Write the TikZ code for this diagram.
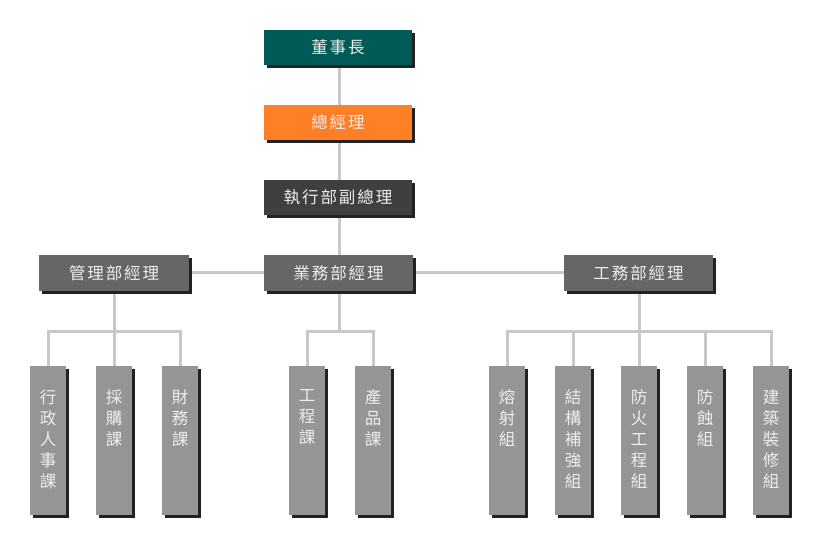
\documentclass[tikz,border=0pt]{standalone}
\usepackage{fontspec}
\newfontfamily\cjk[LetterSpace=12]{Noto Sans CJK TC}
\definecolor{teal1}{HTML}{005A55}
\definecolor{orange1}{HTML}{FF7F27}
\definecolor{dark1}{HTML}{3F3F3F}
\definecolor{mid1}{HTML}{666666}
\definecolor{low1}{HTML}{959595}
\definecolor{line1}{HTML}{C8C8C8}
\definecolor{shade1}{HTML}{222222}
\begin{document}
\begin{tikzpicture}[x=1pt,y=-1pt,
  conn/.style={line1,line width=3pt},
  lbl/.style={text=white!93!black,font=\cjk\fontsize{16.5}{21}\selectfont,inner sep=0pt,align=center},
]
\useasboundingbox[fill=white] (0,0) rectangle (819,546);
% box macro: fill colour, x1,y1,x2,y2
\newcommand\obox[6]{%
  \fill[shade1] (#2+3,#3+3) rectangle (#4+3,#5+3);
  \fill[#1] (#2,#3) rectangle (#4,#5);
  \coordinate (#6) at ({(#2+#4)/2},{(#3+#5)/2});
}
% connectors first
\coordinate (c1) at (339,65);
\coordinate (c2) at (339,255);
\draw[conn] (c1) -- (c2);
\draw[conn] (189,272) -- (564,272);
% Management bracket
\draw[conn] (114,291) -- (114,331);
\draw[conn] (48,366) -- (48,331) -- (180,331) -- (180,366);
\draw[conn] (114,331) -- (114,366);
% Business bracket
\draw[conn] (339,291) -- (339,331);
\draw[conn] (307,366) -- (307,331) -- (373,331) -- (373,366);
% Engineering bracket
\draw[conn] (639,291) -- (639,331);
\draw[conn] (507,366) -- (507,331) -- (771,331) -- (771,366);
\draw[conn] (573,331) -- (573,366);
\draw[conn] (705,331) -- (705,366);
\draw[conn] (639,331) -- (639,366);
% top boxes
\obox{teal1}{264}{30}{412}{65}{ceo}
\node[lbl] (tceo) at (ceo) {董事長};
\obox{orange1}{264}{105}{412}{140}{gm}
\node[lbl] (tgm) at (gm) {總經理};
\obox{dark1}{264}{180}{412}{215}{vp}
\node[lbl] (tvp) at (vp) {執行部副總理};
% managers
\obox{mid1}{39}{255}{189}{291}{m1}
\node[lbl] (tm1) at (m1) {管理部經理};
\obox{mid1}{264}{255}{413}{291}{m2}
\node[lbl] (tm2) at (m2) {業務部經理};
\obox{mid1}{564}{255}{713}{291}{m3}
\node[lbl] (tm3) at (m3) {工務部經理};
% bottom units
\newcommand\ubox[3]{%
  \obox{low1}{#1}{366}{#1+36}{515}{#2}
  \node[lbl,anchor=north] (t#2) at ({#1+18},389) {#3};
}
\ubox{30}{u1}{行\\政\\人\\事\\課}
\ubox{96}{u2}{採\\購\\課}
\ubox{162}{u3}{財\\務\\課}
\ubox{289}{u4}{工\\程\\課}
\ubox{355}{u5}{產\\品\\課}
\ubox{489}{u6}{熔\\射\\組}
\ubox{555}{u7}{結\\構\\補\\強\\組}
\ubox{621}{u8}{防\\火\\工\\程\\組}
\ubox{687}{u9}{防\\蝕\\組}
\ubox{753}{u10}{建\\築\\裝\\修\\組}
\end{tikzpicture}
\end{document}
